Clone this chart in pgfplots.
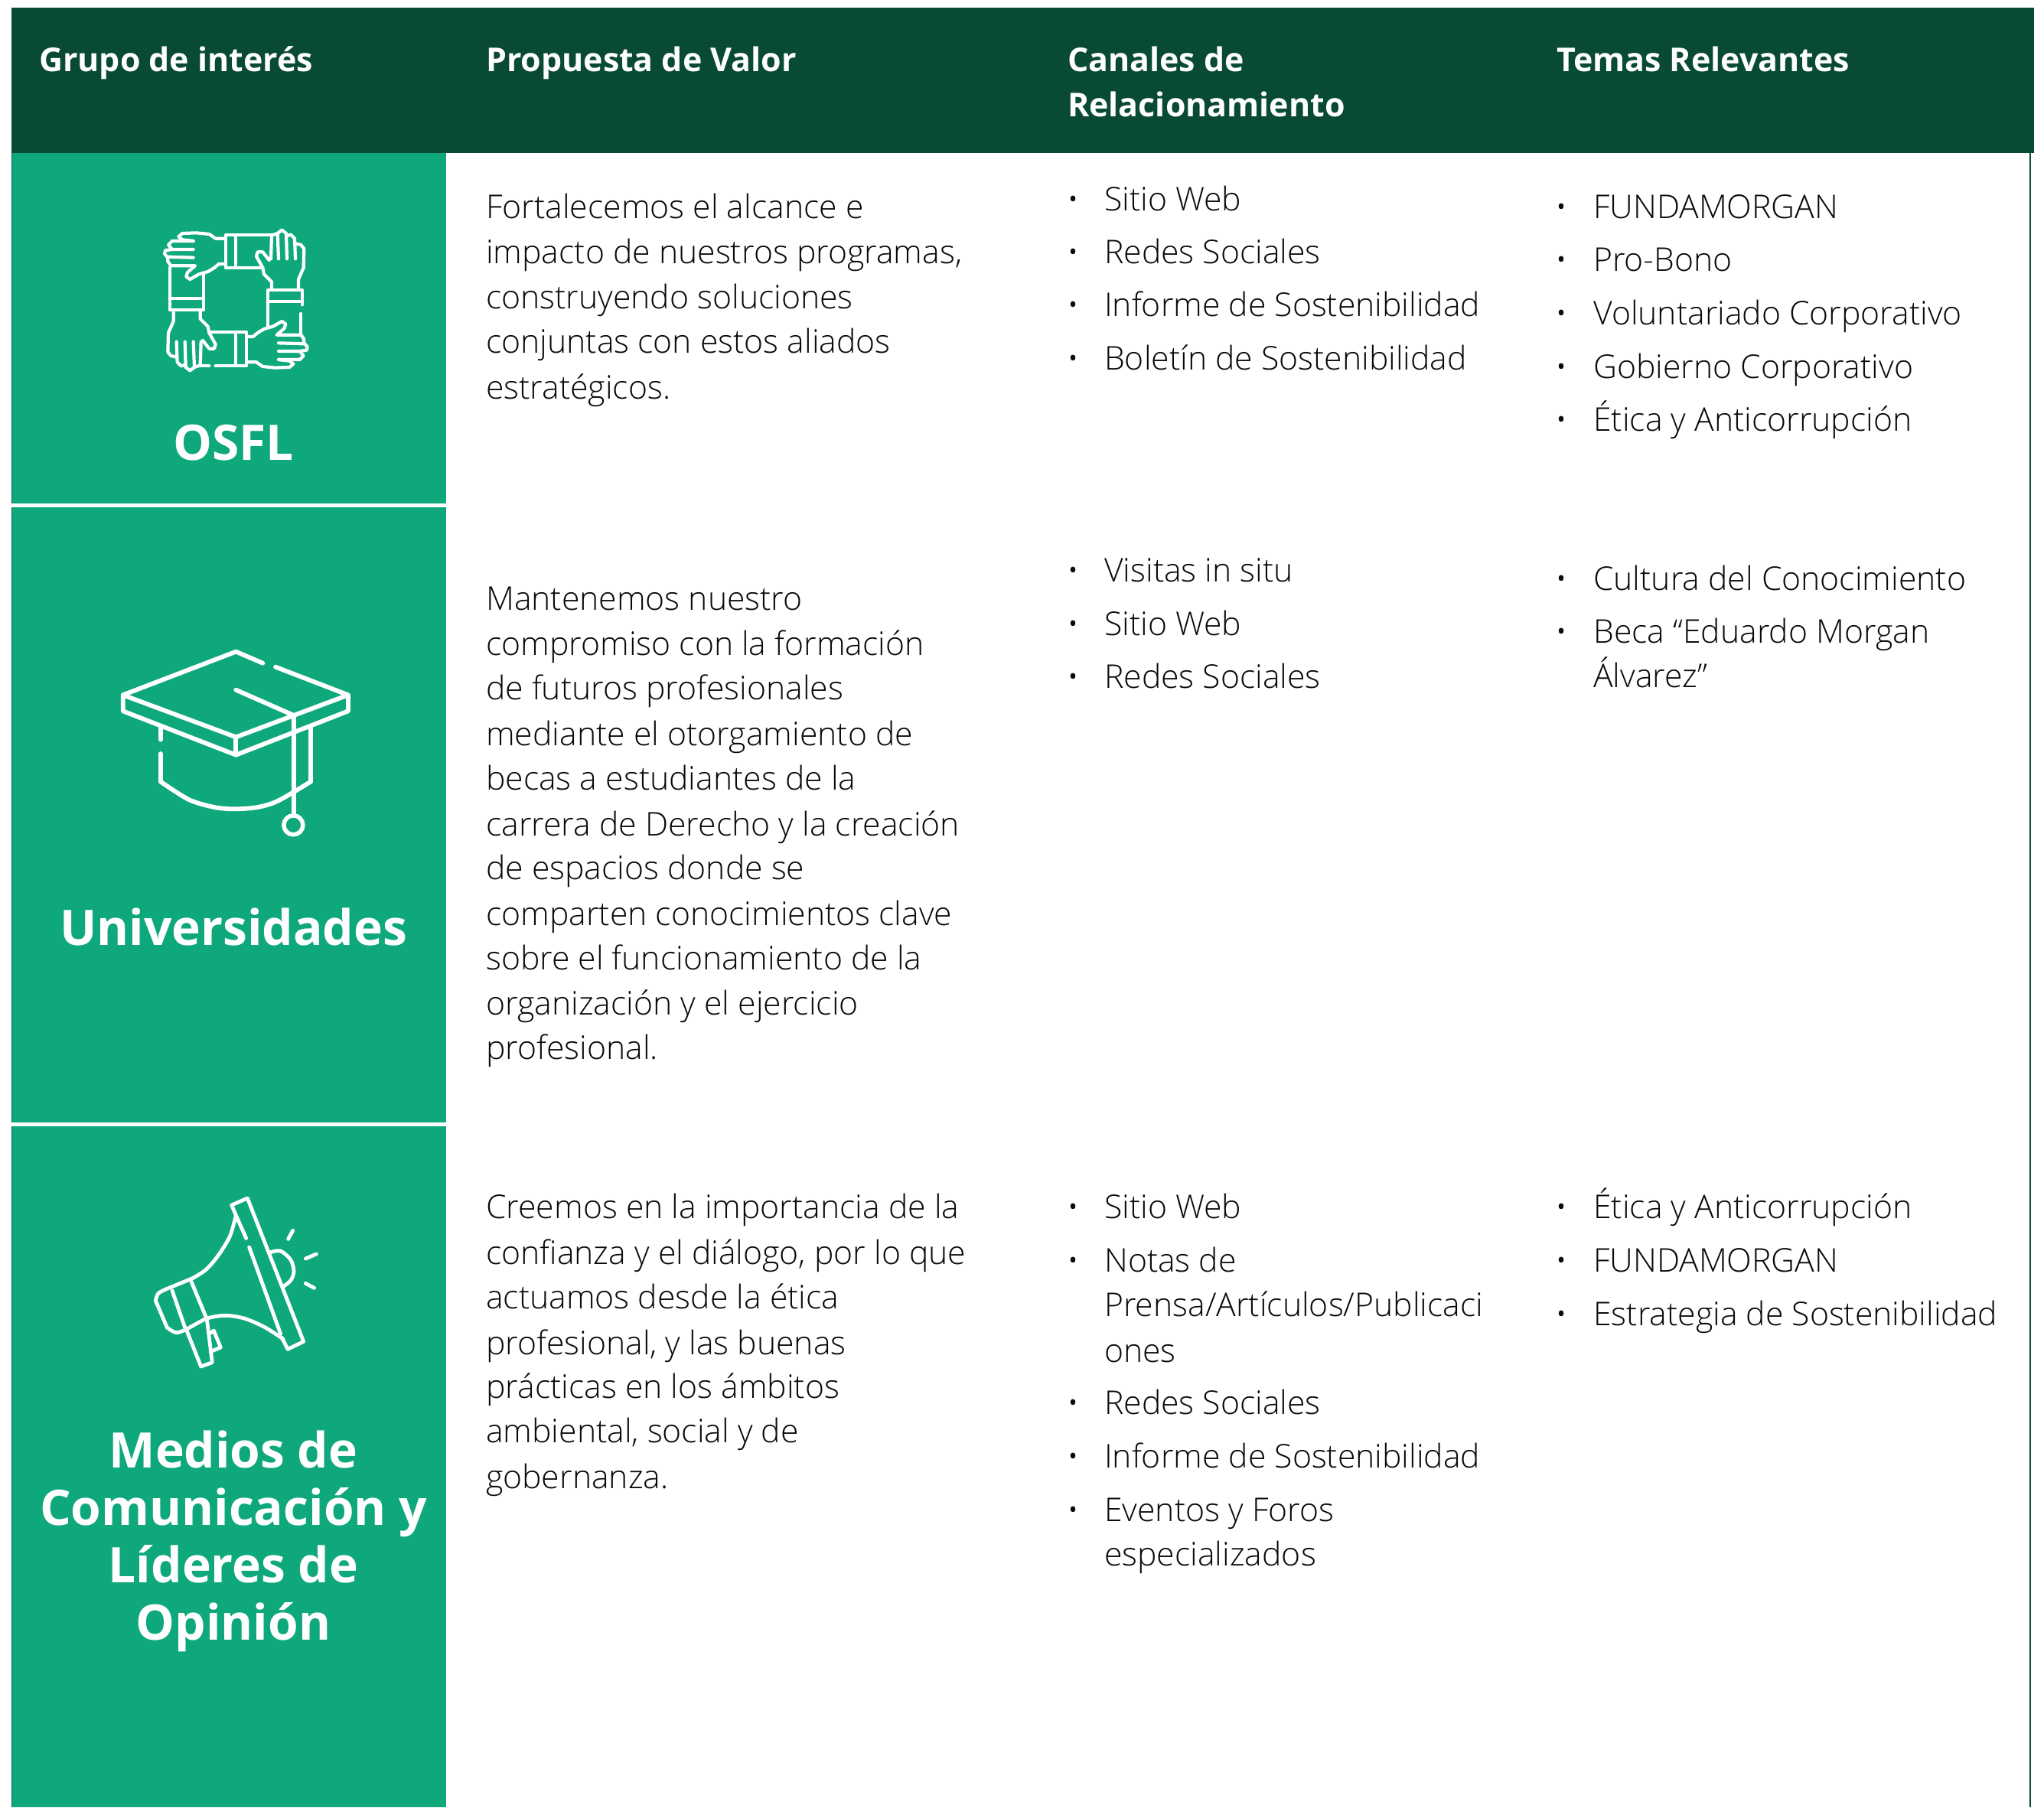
\documentclass[border=0pt]{standalone}
\usepackage{fontspec}
\usepackage{pgfplots}
\pgfplotsset{compat=1.18}
\setmainfont{Open Sans}
\newfontfamily\lt{Open Sans Light}
\newfontfamily\bd{Open Sans}[Ligatures=TeX]
\definecolor{dk}{RGB}{9,74,53}
\definecolor{gr}{RGB}{14,168,124}
\definecolor{tx}{RGB}{10,10,10}
\newcommand\R[5]{\addplot[fill=#1,draw=none,forget plot] coordinates {(#2,#3)(#4,#3)(#4,#5)(#2,#5)} -- cycle;}
\newcommand\T[3]{\node[anchor=base west,inner sep=0pt,text=tx] at (axis cs:#1,#2) {\lt\fontsize{42.7}{50}\selectfont #3};}
\newcommand\Hd[3]{\node[anchor=base west,inner sep=0pt,text=white] at (axis cs:#1,#2) {\bd\bfseries\fontsize{42.9}{50}\selectfont #3};}
\newcommand\G[2]{\node[anchor=base,inner sep=0pt,text=white] at (axis cs:305,#1) {\bd\bfseries\fontsize{64}{70}\selectfont #2};}
\newcommand\Cc[3]{\T{1443}{#1}{#2}\ifx#3y\node[anchor=base,inner sep=0pt,text=tx] at (axis cs:1403,#1) {\lt\fontsize{42.7}{50}\selectfont •};\fi}
\newcommand\Dd[3]{\T{2082}{#1}{#2}\ifx#3y\node[anchor=base,inner sep=0pt,text=tx] at (axis cs:2040,#1) {\lt\fontsize{42.7}{50}\selectfont •};\fi}
\newcommand\I[2]{\addplot[#1] coordinates {#2};}
\newcommand\Hands[1]{%
\I{#1}{(340,125)(305,125)(280,108)(230,103)(175,105)(160,118)(175,130)(218,135)}
\I{#1}{(218,135)(135,135)(120,150)(135,168)(218,168)}
\I{#1}{(135,168)(108,172)(105,185)(115,197)(218,200)}
\I{#1}{(118,200)(118,215)(130,232)(225,232)(195,258)(190,275)(205,285)(240,265)(275,255)(300,240)(318,225)(340,225)}
\I{#1}{(525,112)(540,108)(548,105)(565,92)(582,105)(585,205)}
\I{#1}{(525,112)(522,205)}
\I{#1}{(552,205)(548,105)}
\I{#1}{(582,115)(600,110)(615,125)(618,205)}
\I{#1}{(618,145)(640,150)(652,165)(650,240)(630,285)(630,320)}
\I{#1}{(515,210)(490,178)(470,178)(465,195)(490,240)(495,265)(525,295)(525,325)}}
\begin{document}
\begin{tikzpicture}
\begin{axis}[
  scale only axis, width=2671pt, height=2362pt, hide axis,
  xmin=0, xmax=2671, ymin=0, ymax=2362, y dir=reverse, clip=false,
  every axis plot/.append style={forget plot},
  ico/.style={white,no markers,line cap=round,line join=round},
  a/.style={ico,line width=4.2pt,x filter/.expression={x/3+180},y filter/.expression={y/3+270}},
  ar/.style={ico,line width=4.2pt,x filter/.expression={(770-x)/3+180},y filter/.expression={(735-y)/3+270}},
  b/.style={ico,line width=5.8pt,x filter/.expression={x/3+130},y filter/.expression={y/3+830}},
  c/.style={ico,line width=4.8pt,x filter/.expression={x/3+180},y filter/.expression={y/3+1540}},
]
% page background and blocks
\R{white}{0}{0}{2671}{2362}
\R{dk}{15}{10}{2658}{200}
\R{gr}{15}{200}{583}{658}
\R{gr}{15}{663}{583}{1467}
\R{gr}{15}{1472}{583}{2362}
\addplot[dk,line width=1.2pt] coordinates {(2653,200)(2653,2362)};
\addplot[dk!75!gr,line width=1.2pt] coordinates {(15.5,200)(15.5,658)};
\addplot[dk!75!gr,line width=1.2pt] coordinates {(15.5,663)(15.5,1467)};
\addplot[dk!75!gr,line width=1.2pt] coordinates {(15.5,1472)(15.5,2362)};
% headers
\Hd{51}{94}{Grupo de interés}
\Hd{635}{94}{Propuesta de Valor}
\Hd{1395}{94}{Canales de}
\Hd{1395}{153}{Relacionamiento}
\Hd{2034}{94}{Temas Relevantes}
% group labels
\G{601}{OSFL}
\G{1235}{Universidades}
\G{1918}{Medios de}
\G{1993}{Comunicación y}
\G{2068}{Líderes de}
\G{2143}{Opinión}
% column 2
\T{635}{285.3}{Fortalecemos el alcance e}
\T{635}{344}{impacto de nuestros programas,}
\T{635}{403.7}{construyendo soluciones}
\T{635}{461.6}{conjuntas con estos aliados}
\T{635}{521.3}{estratégicos.}
\T{635}{797.2}{Mantenemos nuestro}
\T{635}{856.8}{compromiso con la formación}
\T{635}{914.8}{de futuros profesionales}
\T{635}{974.4}{mediante el otorgamiento de}
\T{635}{1032.3}{becas a estudiantes de la}
\T{635}{1092}{carrera de Derecho y la creación}
\T{635}{1149.9}{de espacios donde se}
\T{635}{1209.5}{comparten conocimientos clave}
\T{635}{1267.4}{sobre el funcionamiento de la}
\T{635}{1326}{organización y el ejercicio}
\T{635}{1384.9}{profesional.}
\T{635}{1592.8}{Creemos en la importancia de la}
\T{635}{1652.4}{confianza y el diálogo, por lo que}
\T{635}{1710.4}{actuamos desde la ética}
\T{635}{1770}{profesional, y las buenas}
\T{635}{1827.9}{prácticas en los ámbitos}
\T{635}{1885.9}{ambiental, social y de}
\T{635}{1945.5}{gobernanza.}
% column 3
\Cc{275}{Sitio Web}{y}
\Cc{344}{Redes Sociales}{y}
\Cc{413.5}{Informe de Sostenibilidad}{y}
\Cc{483}{Boletín de Sostenibilidad}{y}
\Cc{760.5}{Visitas in situ}{y}
\Cc{830}{Sitio Web}{y}
\Cc{899.4}{Redes Sociales}{y}
\Cc{1592.8}{Sitio Web}{y}
\Cc{1662.6}{Notas de}{y}
\Cc{1720.5}{Prensa/Artículos/Publicaci}{n}
\Cc{1780.2}{ones}{n}
\Cc{1848.3}{Redes Sociales}{y}
\Cc{1918.1}{Informe de Sostenibilidad}{y}
\Cc{1988}{Eventos y Foros}{y}
\Cc{2046.5}{especializados}{n}
% column 4
\Dd{285.5}{FUNDAMORGAN}{y}
\Dd{354.8}{Pro-Bono}{y}
\Dd{424.2}{Voluntariado Corporativo}{y}
\Dd{494}{Gobierno Corporativo}{y}
\Dd{563}{Ética y Anticorrupción}{y}
\Dd{771.7}{Cultura del Conocimiento}{y}
\Dd{840}{Beca “Eduardo Morgan}{y}
\Dd{898}{Álvarez”}{n}
\Dd{1592.8}{Ética y Anticorrupción}{y}
\Dd{1662.6}{FUNDAMORGAN}{y}
\Dd{1732.4}{Estrategia de Sostenibilidad}{y}
% icon 1: hands
\Hands{a}
\Hands{ar}
\I{a}{(525,112)(345,112)(345,240)(480,240)}
\I{a}{(385,115)(385,240)}
\I{a}{(645,385)(645,328)(510,328)(510,470)}
\I{a}{(510,372)(645,372)}
\I{a}{(640,420)(640,500)}
\I{a}{(125,240)(125,405)(258,405)(258,268)}
\I{a}{(125,360)(255,360)}
\I{a}{(290,492)(425,492)(425,625)(305,625)}
\I{a}{(385,497)(385,622)}
\I{a}{(250,625)(280,625)}
% icon 2: hat
\I{b}{(640,110)(535,65)(92,235)(535,400)(975,235)(690,125)}
\I{b}{(92,235)(92,298)(535,470)(975,298)(975,235)}
\I{b}{(535,400)(535,470)}
\I{b}{(535,215)(762,315)(762,700)}
\I{b}{(240,365)(240,410)}
\I{b}{(240,465)(240,575)}
\I{b,smooth}{(240,575)(350,645)(450,675)(530,682)(620,675)(700,650)(828,575)}
\I{b}{(828,575)(828,360)}
\addplot[only marks,mark=o,mark size=12.5pt,mark options={draw=white,line width=5.5pt},x filter/.expression={x/3+130},y filter/.expression={y/3+830}] coordinates {(760,745)};
% icon 3: megaphone
\I{c}{(425,235)(385,145)(368,105)(430,78)(650,640)(588,670)(565,625)}
\I{c}{(437,270)(560,610)}
\I{c,smooth}{(385,145)(360,230)(310,310)(265,360)(215,392)}
\I{c}{(215,392)(110,435)}
\I{c,smooth}{(110,435)(80,452)(70,480)}
\I{c}{(70,480)(115,585)}
\I{c,smooth}{(115,585)(150,605)(190,592)(270,550)(345,538)(420,550)(500,585)(570,630)}
\I{c}{(135,440)(185,585)}
\I{c}{(210,405)(270,550)}
\I{c}{(190,592)(248,738)(292,722)(272,560)}
\I{c}{(280,610)(298,597)(325,663)(285,680)}
\I{c,smooth}{(520,290)(560,285)(600,320)(612,365)(600,400)(570,425)}
\I{c}{(590,238)(608,205)}
\I{c}{(658,315)(700,297)}
\I{c}{(658,412)(692,430)}
\end{axis}
\end{tikzpicture}
\end{document}
